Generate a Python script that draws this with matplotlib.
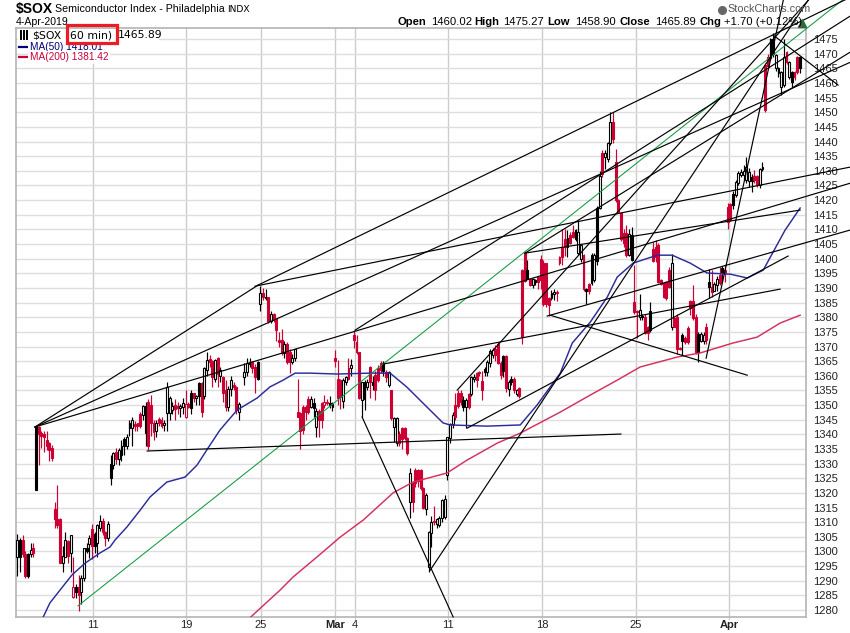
#!/usr/bin/env python3
# -*- coding: utf-8 -*-

import numpy as np
from matplotlib import pyplot as plt
from matplotlib.lines import Line2D
from matplotlib.patches import Rectangle

nan = float("nan")

# candles, one value per 60 min bar (k/K black hollow/filled, r/R red hollow/filled)
bar_kind = ("kKRRKkRKRR" "RRRRRRRkkR" "krKRkkKkRK" "kkRRkKkRkk"
            "KkkkRRRkKR" "RRkRRkkkkR" "RkkrRKRkKR" "kkRRkRkRRk"
            "kRRk.kkkRR" "KkRKRkRRRR" "kRRkkRRR" "RRkKkRRrRK"
            "kRRRkkRkRR" "RkkkRkRRRK" "RkRkkRRRRk" "RRRRRkkkRk"
            "kkkkkkRRRK" "kRkkRRRKkk" "kRRRKRkKRk" "RRRKRkKRRR"
            "RRkkRRRRkR" "RKkkRKRkkK" "kRkkkRRRRR" "RkKRRkKRRK"
            "RRRRRRRkRR" "RKRRRRRKkk" "RKRkkRKRRR" "KkkkkkkKRR"
            "kkRRkKkkkkR")
bar_kind = "".join(c for c in bar_kind if c in "kKrR.")

bar_high = [1306, 1304.5, 1305.5, 1300, 1299.5, 1303, 1303, 1343, 1343, 1341,
            1341, 1341, 1337.5, 1336.5, 1317, 1322.8, 1311.5, 1302, 1306.5, 1304,
            1305.5, 1298, 1289, 1292, 1292, 1301, 1303, 1305.5, 1309.5, 1306.5,
            1309.5, 1312.5, 1311.5, 1307, 1310.5, 1333, 1334, 1335.5, 1335.5, 1338,
            1339, 1340, 1345, 1346, 1344.5, 1344, 1347.5, 1350, 1351, 1352,
            1353.3, 1345, 1345, 1346, 1346, 1345, 1358, 1353, 1351, 1352,
            1351, 1350.5, 1352.5, 1355, 1351, 1355, 1354.2, 1353.5, 1358, 1358,
            1363, 1368, 1367, 1365.5, 1365.6, 1366.5, 1363, 1360, 1358.5, 1356.5,
            1360, 1358, 1356.5, 1351, nan, 1364.2, 1366, 1366, 1365, 1364,
            1365, 1390.5, 1390, 1389.5, 1387, 1382.2, 1381.5, 1379.5, 1375, 1376,
            1372, 1371.5, 1369, 1367.5, 1369.2, 1359, 1347.6, 1350, 1350, 1353,
            1353, 1352.5, 1349, 1348.5, 1351, 1353.5, 1352, 1353, 1351, 1368.8,
            1365.4, 1358.8, 1359.2, 1360, 1366, 1365.6, 1375.6, 1374, 1368.2, 1358,
            1358.5, 1359, 1363.2, 1360, 1361.5, 1363.6, 1365, 1365, 1362, 1361.5,
            1355, 1346, 1346, 1341, 1342.5, 1342.5, 1339, 1328.4, 1324, 1328.5,
            1328, 1328, 1322, 1320, 1307, 1312, 1315.5, 1311.5, 1312, 1318,
            1319.3, 1339, 1344, 1347.5, 1354, 1355, 1355, 1353, 1352.5, 1354,
            1360, 1360.5, 1361.2, 1361.6, 1361.5, 1363, 1365.5, 1369, 1369.4, 1370.5,
            1371.5, 1365, 1367, 1367, 1358.5, 1360, 1359.5, 1355.5, 1356, 1396.5,
            1402, 1399.7, 1393.5, 1393.5, 1393, 1394, 1401.2, 1399.5, 1398.5, 1387,
            1389.2, 1389.5, 1389.2, 1401, 1410.3, 1410, 1409.8, 1409, 1411.5, 1410,
            1413.2, 1405, 1401.5, 1390, 1391.7, 1402, 1402, 1418, 1430, 1437,
            1437, 1440, 1450, 1450.2, 1437.3, 1420.5, 1416, 1410, 1411.5, 1410,
            1410.9, 1397.8, 1382.5, 1388, 1381, 1381, 1377, 1385.3, 1405.6, 1406.3,
            1405.5, 1393, 1392, 1392.5, 1397, 1401.5, 1380, 1381, 1370, 1374.5,
            1373.5, 1377, 1386, 1391, 1381, 1375, 1375, 1375, 1378, 1396.6,
            1396.3, 1392, 1394, 1397.2, 1397.5, 1397.8, 1419, 1419, 1423, 1427,
            1430, 1430.8, 1432, 1434.6, 1431, 1429, 1430.2, 1428.5, 1431, 1433,
            1467, 1470, 1475.3, 1477, 1470, 1465.5, 1464, 1475, 1471, 1467.5,
            1464, 1464, 1469.2, 1469.2]
bar_top = [1304, 1304, 1304, 1299, 1299, 1300.5, 1301, 1343, 1342.5, 1340.5,
           1340, 1338, 1337, 1335.5, 1314.5, 1311, 1311, 1298.5, 1304, 1303.5,
           1305.5, 1288, 1288, 1288, 1291, 1301, 1301, 1304.5, 1307.5, 1306,
           1309, 1310.5, 1310.5, 1306.5, 1309.5, 1330, 1333.5, 1334, 1334.5, 1336,
           1338.5, 1339, 1344, 1345, 1343.5, 1343.7, 1347, 1349.7, 1349.7, 1351,
           1350, 1344, 1344, 1345.2, 1345, 1344, 1356.3, 1352.3, 1349.7, 1350,
           1349.7, 1349.7, 1350.6, 1350.2, 1350.2, 1354, 1354, 1353, 1357.4, 1357.4,
           1362.5, 1365.4, 1365.6, 1365, 1365.4, 1366, 1362, 1359.7, 1355, 1355.4,
           1358.6, 1357, 1356.3, 1350.4, nan, 1361.4, 1364.2, 1364.5, 1364.8, 1362.9,
           1364.8, 1388.4, 1388.4, 1387, 1386.8, 1381, 1381, 1379.3, 1372.2, 1372.2,
           1370.9, 1371, 1368.2, 1366, 1369, 1347.5, 1347.4, 1349.2, 1349.4, 1352,
           1352, 1350.6, 1348, 1348, 1350.6, 1351.2, 1351.2, 1350.8, 1350.2, 1366,
           1358.8, 1358.6, 1358.6, 1359.5, 1362.5, 1363.7, 1374, 1371.7, 1368.2, 1358,
           1358, 1358, 1363, 1358, 1360.3, 1362.5, 1364.3, 1364, 1361.4, 1361.4,
           1355, 1345.5, 1345.5, 1340, 1342, 1342.3, 1338.6, 1326.7, 1323.3, 1327.8,
           1327.8, 1327.8, 1321.6, 1319.3, 1306.7, 1310.2, 1310.5, 1311, 1311.3, 1317.6,
           1318, 1339, 1343.5, 1346.6, 1350, 1354.2, 1354.2, 1351.7, 1351.7, 1353.8,
           1359.7, 1359.7, 1361, 1361.2, 1358.2, 1362.2, 1364.8, 1368.6, 1368.8, 1369,
           1371, 1364.5, 1366.8, 1366.8, 1358, 1358.8, 1358.8, 1355.2, 1355.8, 1396,
           1401.8, 1396, 1393.2, 1393.2, 1392.8, 1393.8, 1400, 1398.4, 1398.4, 1386.4,
           1388.3, 1388.7, 1388.7, 1400.6, 1404, 1406.6, 1406.9, 1408, 1409.2, 1409.8,
           1409.2, 1404.6, 1401.2, 1389.8, 1391.5, 1401.2, 1401.2, 1417.2, 1428.2, 1436.2,
           1436.2, 1439.6, 1446.8, 1446.8, 1433, 1420, 1415.7, 1408.8, 1408.8, 1408.6,
           1408, 1385.3, 1382.2, 1382.4, 1380.5, 1380.2, 1376.7, 1382.2, 1403.3, 1404,
           1404.6, 1392.7, 1391.8, 1392.1, 1396.3, 1398.4, 1379.6, 1380.2, 1369.5, 1373.9,
           1373, 1376.2, 1385.5, 1385.5, 1380.2, 1374.4, 1374.4, 1373.9, 1376.7, 1392.1,
           1390.4, 1391.5, 1393, 1394.4, 1396.7, 1396.3, 1417.5, 1418.6, 1422, 1426.3,
           1429.3, 1429.6, 1430, 1431.2, 1429.6, 1428, 1428.2, 1428.2, 1430.8, 1431.2,
           1466, 1469, 1475.2, 1475, 1469.5, 1465, 1463.8, 1469, 1470.7, 1467.3,
           1463.8, 1463.8, 1469, 1469]
bar_bot = [1298, 1298, 1299, 1291.5, 1291.5, 1299, 1299.5, 1321, 1340, 1339.5,
           1339, 1336, 1334.5, 1332, 1311, 1309, 1296, 1296, 1298, 1298.5,
           1299.5, 1284.3, 1286, 1285, 1286, 1291, 1300, 1302.5, 1302, 1302,
           1303, 1308, 1306.5, 1304.5, 1304.5, 1325, 1329.5, 1331.5, 1331.5, 1333,
           1336, 1336, 1342, 1342, 1343, 1342.8, 1343, 1346.6, 1340.3, 1336,
           1344, 1340.7, 1341, 1344, 1343, 1343.2, 1347.4, 1347.4, 1348.3, 1348.5,
           1348.9, 1349.1, 1349.5, 1345.8, 1349.4, 1349, 1352.3, 1352.3, 1353, 1347.7,
           1353, 1362, 1364.8, 1359.5, 1359, 1360.6, 1360, 1354.2, 1349.2, 1349.2,
           1355.4, 1356.3, 1348.3, 1347.7, nan, 1359.7, 1361.4, 1364, 1362.5, 1359.5,
           1359, 1384.4, 1386.8, 1386.7, 1378.8, 1378.8, 1379.5, 1375.6, 1371.7, 1368,
           1367.7, 1364.8, 1364.8, 1364.8, 1366, 1346, 1341, 1341.5, 1347.7, 1347.7,
           1349.2, 1349, 1342.4, 1345, 1345, 1350, 1350.8, 1350, 1349.3, 1365.2,
           1352.3, 1352.8, 1351.5, 1358, 1359, 1362.5, 1372.2, 1368.2, 1352.3, 1351.7,
           1352, 1356.3, 1358, 1357, 1355, 1358.6, 1362, 1361.5, 1359.7, 1356.9,
           1345.5, 1342.6, 1337, 1337, 1338.3, 1338.6, 1333.7, 1317, 1317, 1323.3,
           1323.9, 1321.6, 1314.7, 1314.4, 1294.8, 1306.4, 1310, 1309.4, 1309, 1311.3,
           1311.8, 1326, 1338.6, 1343.5, 1346, 1349.7, 1351.2, 1349.2, 1349.4, 1349.2,
           1353.8, 1359, 1358.6, 1361, 1355, 1361.4, 1361.4, 1364.5, 1367, 1367,
           1364.5, 1360.3, 1361.6, 1355.7, 1355.5, 1358, 1355.2, 1353.8, 1353, 1373.3,
           1392.4, 1393.2, 1391, 1391, 1392, 1392, 1392.7, 1384.5, 1384.5, 1384.1,
           1386.4, 1388, 1388.3, 1398.4, 1400.6, 1404, 1404, 1405.2, 1407.5, 1406.6,
           1401.8, 1400, 1389.8, 1389, 1389, 1391.8, 1392.7, 1399.3, 1417.2, 1428.9,
           1434.6, 1434.2, 1439.6, 1441, 1420, 1416, 1406.6, 1405.2, 1401.2, 1401.2,
           1399.7, 1381.8, 1381.9, 1380, 1380, 1374.5, 1374.5, 1375.6, 1399.3, 1400.6,
           1392.1, 1391.3, 1387, 1386.4, 1390.4, 1376.5, 1376.7, 1369.3, 1369.3, 1372,
           1371.5, 1371.6, 1383, 1379.6, 1368.2, 1368.2, 1372, 1372, 1372.2, 1390.2,
           1388.7, 1389, 1391, 1391.8, 1395, 1395, 1412.6, 1413.2, 1418.3, 1421.7,
           1425.9, 1428.5, 1428.5, 1426.8, 1426.6, 1426.6, 1426.8, 1425.1, 1425.1, 1430.5,
           1450.7, 1465.8, 1468.4, 1470, 1465, 1463.5, 1458.8, 1459.3, 1467.3, 1462,
           1460.4, 1462, 1463.8, 1465]
bar_low = [1291.5, 1293, 1298, 1291, 1291, 1298, 1298, 1321, 1329.6, 1335.5,
           1334, 1334.5, 1331, 1331, 1308, 1308, 1296, 1293, 1298, 1296,
           1293, 1284, 1284, 1279.5, 1282, 1290, 1299.5, 1297.7, 1297.5, 1299.5,
           1298, 1307, 1305.5, 1302, 1303.5, 1322.8, 1328, 1330, 1329.5, 1331,
           1333, 1335, 1339.5, 1336, 1341, 1341, 1342, 1345, 1336, 1334.5,
           1339.5, 1338, 1339, 1343, 1342, 1341, 1341, 1345, 1347, 1345,
           1347, 1346, 1347, 1345.5, 1349, 1347, 1351, 1350, 1350, 1346,
           1352, 1360, 1363, 1356, 1358, 1356, 1358, 1351, 1348, 1348,
           1353, 1355, 1347, 1345, nan, 1357, 1360, 1363, 1361, 1354,
           1358.5, 1382, 1386, 1386, 1378, 1378, 1378.5, 1372, 1370, 1367,
           1366, 1364, 1361, 1364, 1365, 1346, 1335, 1340, 1345, 1347,
           1349, 1346, 1339, 1339, 1342, 1349, 1350, 1349, 1348, 1363,
           1350, 1348.5, 1349, 1357, 1358.5, 1360, 1369.4, 1367.5, 1352, 1346,
           1348.3, 1355, 1352.3, 1355, 1351.7, 1358, 1361, 1360, 1358, 1356,
           1345, 1337.5, 1336, 1336, 1335, 1338, 1333, 1311.3, 1313.6, 1322,
           1322, 1321, 1314.4, 1312.4, 1293, 1301.6, 1309, 1308, 1308.2, 1310,
           1311, 1324.4, 1337, 1342, 1345, 1349, 1350, 1348, 1342, 1348.5,
           1353, 1358, 1356, 1360, 1351.7, 1360, 1360, 1363, 1366, 1365,
           1364, 1359, 1359.5, 1354.5, 1353, 1357, 1354, 1353, 1352.3, 1371,
           1392, 1393, 1390.8, 1390, 1391, 1389.8, 1389.8, 1384, 1383.5, 1380.4,
           1386, 1386, 1385.5, 1398, 1398, 1401, 1400.6, 1405, 1407, 1406,
           1401.2, 1399, 1389, 1384.5, 1388, 1391, 1392, 1398, 1417, 1428,
           1430.8, 1433, 1439, 1439.6, 1419.4, 1415.5, 1406, 1404, 1400.6, 1400.8,
           1399.3, 1381.2, 1373, 1379, 1379, 1374.2, 1372.2, 1375, 1399, 1399,
           1391.8, 1391, 1386.4, 1386, 1390, 1375.5, 1376.5, 1367.6, 1368.7, 1367,
           1371, 1371, 1380.7, 1379.2, 1367.6, 1364.8, 1371.6, 1371, 1371, 1386.7,
           1387, 1389, 1389, 1391, 1392, 1392, 1410, 1413, 1417, 1421,
           1425, 1428, 1427, 1426, 1424.6, 1422.8, 1426, 1424.6, 1424, 1430,
           1450, 1465, 1468, 1469, 1464, 1462, 1456, 1458.8, 1466.5, 1461.5,
           1458.5, 1461, 1463, 1463.5]

# moving averages, (bar number, price)
ma50_x = [9.7, 12.2, 16, 20.5, 25.4, 31, 34.7, 36.6, 41, 46, 49.7, 56, 62.8, 67.3, 71.4, 75.9,
          82.3, 89.8, 94.6, 99.5, 104, 109.6, 119.7, 132, 139.6, 145.9, 153.4, 159.4, 162,
          175.9, 188.3, 194.6, 203.3, 207.8, 214.5, 220.9, 224.6, 230.6, 239.6, 245.2,
          251.9, 258.3, 267, 273.3, 279.3, 283, 287.5, 293.1]
ma50_y = [1277.6, 1282.4, 1286.8, 1292, 1296, 1299.5, 1301.5, 1303.9, 1308.3, 1314.1, 1318.6,
          1323.7, 1325.4, 1329.5, 1335.3, 1341.5, 1348.3, 1352.4, 1356.2, 1358.5, 1360.9,
          1360.9, 1360.6, 1360.9, 1360.9, 1356.1, 1349.3, 1343.9, 1343.2, 1342.8, 1343.2,
          1350, 1360.9, 1371.2, 1378.3, 1386.9, 1393.7, 1398.5, 1401.2, 1401.2, 1398.5,
          1395.1, 1394.7, 1393.4, 1396.1, 1402.3, 1409.8, 1417.3]
ma200_x = [87.4, 98.4, 103.3, 112.2, 120.9, 129.5, 140.7, 148.2, 160.9, 168.4, 179.7, 188.3,
           203.3, 214.5, 224.6, 233.2, 247.1, 255.7, 268, 277, 285.6, 293.1]
ma200_y = [1277.6, 1286.8, 1291.3, 1298.1, 1304.9, 1310.7, 1320, 1323.7, 1326.8, 1331.2, 1337,
           1340.4, 1347.6, 1353.4, 1358.5, 1363, 1366.4, 1367.8, 1371.2, 1373.2, 1378, 1380.7]

# hand drawn trend lines, end points as (bar number, price)
trend_x0 = [6.6, 90.2, 6.6, 6.6, 89, 126.5, 190.1, 137, 198.4, 199.5, 168.4, 164.7, 129.1, 154.6,
            257.9, 48.6, 283, 190.1]
trend_y0 = [1342.5, 1391, 1342.5, 1342.5, 1390.6, 1375.6, 1401.9, 1364, 1380.4, 1380.7, 1342.1,
            1355.1, 1345.9, 1293.6, 1366, 1334.3, 1476.4, 1401.9]
trend_x1 = [90.2, 311.9, 311.9, 311.9, 311.9, 311.9, 293.1, 285.6, 311.9, 273.3, 288.6, 296.9,
            163.2, 296.1, 286.8, 226, 307.3, 311.9]
trend_y1 = [1391, 1489.3, 1467.1, 1425.8, 1431.3, 1482.9, 1416.6, 1389.6, 1409.8, 1360.2, 1400.9,
            1489, 1277.6, 1488.3, 1488.3, 1340.1, 1459.3, 1470.6]
green_x = [22.7, 308.9]
green_y = [1281.4, 1488.3]

price_ticks = list(range(1280, 1480, 5))
date_ticks = [28.2, 63.1, 91.2, 119.1, 126.3, 161.2, 196.4, 231.6, 266.4]
date_labels = ["11", "19", "25", "Mar", "4", "11", "18", "25", "Apr"]

head_labels = ["Open", "1460.02", "High", "1475.27", "Low", "1458.90", "Close", "1465.89", "Chg",
               "+1.70 (+0.12%)"]
head_px = [398, 431, 474, 503, 547, 575, 619, 655, 699, 724]

W, H = 850, 633
RED = "#cc0033"
SANS = "Liberation Sans"


def ftext(px, py, s, **kw):
    # text placed in picture pixels
    kw.setdefault("family", SANS)
    kw.setdefault("va", "center")
    return fig.text(px / W, 1 - py / H, s, parse_math=False, **kw)


fig = plt.figure(figsize=(W / 100, H / 100), dpi=100)
ax = fig.add_axes([16 / W, 1 - 617 / H, 790 / W, 589 / H])
ax.set_xlim(-0.49, 295.3)
ax.set_ylim(1277.6, 1478.8)

ax.set_yticks(price_ticks)
ax.set_xticks(date_ticks)
ax.yaxis.tick_right()
ax.set_xticklabels(date_labels, fontsize=8, family=SANS)
for lab, txt in zip(ax.get_xticklabels(), date_labels):
    if txt in ("Mar", "Apr"):
        lab.set_fontweight("bold")
ax.set_yticklabels([str(p) for p in price_ticks], fontsize=8, family=SANS)
ax.tick_params(axis="y", length=0, pad=5, labelcolor="#222222")
ax.tick_params(axis="x", length=2, pad=0.5, color="#cccccc", labelcolor="#222222")
ax.grid(axis="y", color="#dedede", lw=1)
ax.grid(axis="x", color="#cccccc", lw=1)
ax.set_axisbelow(True)
for sp in ax.spines.values():
    sp.set_color("#b4b4b4")
    sp.set_linewidth(1.2)

# candles
x = np.arange(len(bar_high))
colors = ["#000000" if k in "kK" else RED for k in bar_kind]
faces = ["white" if k in "kr" else ("#000000" if k == "K" else RED) for k in bar_kind]
ax.vlines(x, bar_low, bar_high, colors=colors, lw=0.85, zorder=3)
heights = np.array(bar_top) - np.array(bar_bot)
ax.bar(x, heights, bottom=bar_bot, width=0.72, color=faces, edgecolor=colors, lw=0.8, zorder=3.5)

# moving averages
ax.plot(ma50_x, ma50_y, color="#2b2b9c", lw=1.05, zorder=4)
ax.plot(ma200_x, ma200_y, color="#d4305c", lw=1.05, zorder=4)

# trend lines run on over the labels up to the edge of the picture
ax.plot(green_x, green_y, color="#109a40", lw=0.75, zorder=5, clip_on=False)
for x0, y0, x1, y1 in zip(trend_x0, trend_y0, trend_x1, trend_y1):
    ax.plot([x0, x1], [y0, y1], color="black", lw=0.85, zorder=6, clip_on=False)

# header
ftext(16, 9, "$SOX", fontsize=10, fontweight="bold")
ftext(55, 9, "Semiconductor Index - Philadelphia", fontsize=7.7)
ftext(227, 9.5, "INDX", fontsize=6.6, family="DejaVu Sans")
ftext(16, 22, "4-Apr-2019", fontsize=7.6)
for px, s in zip(head_px, head_labels):
    bold = s[0].isalpha()
    ftext(px, 22, s, fontsize=8.1, fontweight="bold" if bold else "normal")
fig.add_artist(Line2D([802 / W], [1 - 23 / H], marker="^", ms=6, color="#2e6b3a", transform=fig.transFigure))
fig.add_artist(Line2D([722 / W], [1 - 9.5 / H], marker="o", ms=5.5, mfc="#666666", mec="#666666",
                      transform=fig.transFigure))
ftext(727, 9.5, "StockCharts.com", fontsize=7.8, color="#555555", zorder=1)

# legend inside the plot, white behind it
box = dict(facecolor="white", edgecolor="none", pad=1.2)
fig.add_artist(Rectangle((18 / W, 1 - 41 / H), 141 / W, 12 / H, facecolor="white", edgecolor="none",
                         transform=fig.transFigure, zorder=6.5))
for px in (21, 24, 27):
    fig.add_artist(Line2D([px / W] * 2, [1 - 39 / H, 1 - 31 / H], color="black", lw=1.4,
                          transform=fig.transFigure, zorder=7))
ftext(32, 35, "$SOX", fontsize=7.8, family="DejaVu Sans", zorder=7)
ftext(70, 35, "60 min)", fontsize=7.8, family="DejaVu Sans", zorder=7)
ftext(118, 35, "1465.89", fontsize=7.8, family="DejaVu Sans", zorder=7)
fig.add_artist(Rectangle((67 / W, 1 - 42.5 / H), 49.5 / W, 18 / H, fill=False, edgecolor="#ed1c24", lw=2.3,
                         transform=fig.transFigure, zorder=8))
ftext(29.5, 47, "MA(50) 1418.01", fontsize=7.3, color="#00007a", bbox=box, zorder=7)
ftext(29.5, 57.5, "MA(200) 1381.42", fontsize=7.3, color="#c8003c", bbox=box, zorder=7)
fig.add_artist(Line2D([19 / W, 28 / W], [1 - 46.5 / H] * 2, color="#00007a", lw=1.6, transform=fig.transFigure))
fig.add_artist(Line2D([19 / W, 28 / W], [1 - 57 / H] * 2, color="#c8003c", lw=1.6, transform=fig.transFigure))

fig.savefig("out.png", dpi=100)
